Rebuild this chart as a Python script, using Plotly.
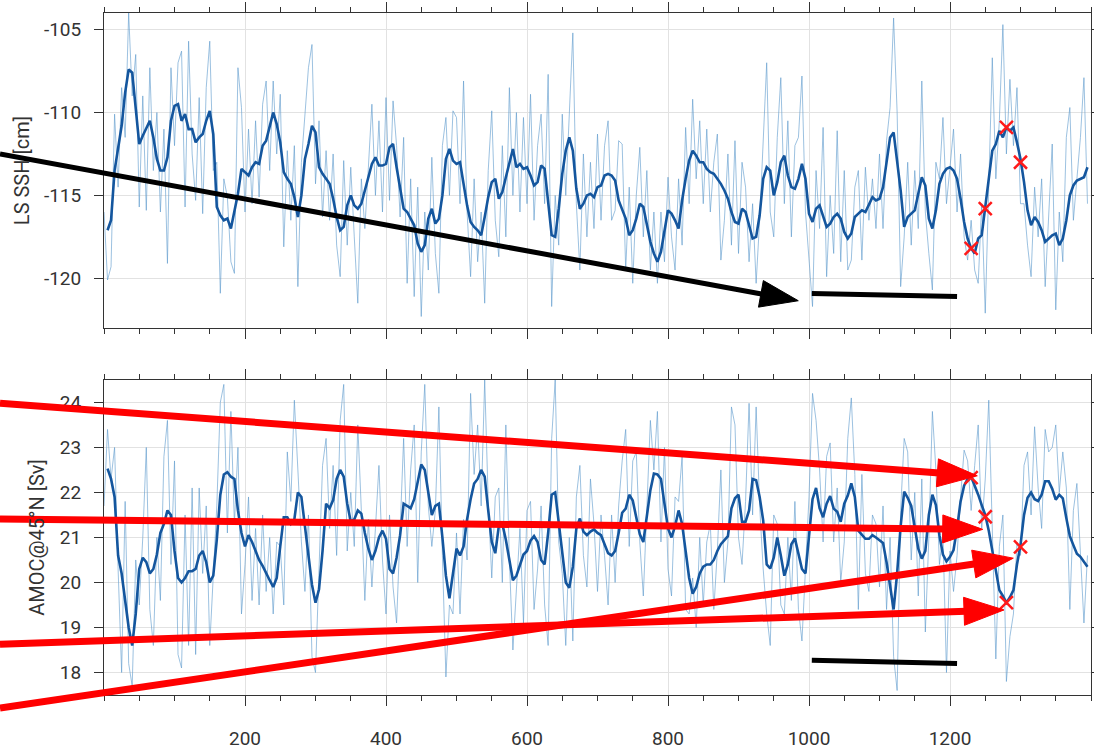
import plotly.graph_objects as go

# ---------------- data ----------------
years = list(range(0, 1400, 5))

ssh_annual = [
    -116.0, -120.1, -119.3, -110.1, -114.5, -108.5, -111.5, -104.0, -109.0, -106.5,
    -115.7, -109.0, -115.9, -107.3, -113.5, -110.0, -116.0, -111.0, -119.1, -107.3,
    -112.0, -107.0, -106.3, -115.7, -105.7, -112.5, -115.3, -109.1, -116.1, -108.5,
    -105.7, -113.5, -113.0, -120.9, -114.0, -115.1, -119.0, -119.7, -107.3, -109.7,
    -116.0, -111.0, -115.5, -110.5, -115.1, -109.5, -108.1, -113.5, -108.1, -112.5,
    -108.9, -118.1, -112.3, -116.5, -112.0, -120.5, -113.0, -110.3, -107.3, -105.9,
    -114.3, -110.5, -116.3, -112.3, -116.5, -112.5, -118.0, -119.9, -112.9, -118.0,
    -113.3, -117.5, -121.5, -114.0, -117.0, -113.3, -109.5, -115.0, -110.5, -116.0,
    -109.1, -115.3, -109.3, -112.0, -116.3, -111.5, -120.3, -114.0, -121.1, -114.5,
    -122.3, -116.0, -119.5, -112.7, -118.5, -120.9, -112.0, -110.3, -115.0, -109.9,
    -110.3, -115.5, -108.1, -116.0, -119.9, -114.0, -119.0, -116.0, -121.5, -113.5,
    -109.9, -116.5, -118.7, -112.0, -117.5, -108.5, -115.0, -110.0, -116.0, -110.3,
    -115.5, -108.9, -116.5, -112.0, -110.1, -115.5, -107.7, -121.7, -115.0, -118.0,
    -110.1, -115.0, -110.5, -105.2, -115.5, -119.5, -112.5, -117.5, -113.0, -117.0,
    -111.3, -116.5, -112.0, -110.5, -116.5, -115.9, -111.7, -111.9, -119.5, -114.5,
    -120.3, -115.0, -112.1, -117.5, -113.5, -119.5, -116.0, -120.3, -116.0, -119.0,
    -113.9, -117.5, -119.5, -114.0, -118.0, -110.9, -115.5, -109.2, -114.0, -110.5,
    -115.5, -111.0, -116.0, -113.0, -111.3, -118.9, -116.5, -112.5, -118.0, -111.7,
    -118.5, -113.0, -114.5, -119.0, -115.5, -120.3, -116.5, -112.0, -107.0, -116.0,
    -117.5, -111.5, -107.9, -115.5, -110.5, -117.5, -112.0, -111.5, -107.8, -116.0,
    -119.0, -121.7, -113.5, -117.0, -110.9, -119.9, -115.0, -118.5, -111.1, -119.0,
    -113.5, -119.5, -118.9, -114.5, -113.5, -118.9, -113.3, -116.5, -114.0, -117.0,
    -112.5, -117.0, -111.7, -109.7, -104.3, -110.0, -120.5, -117.5, -113.0, -118.0,
    -113.5, -117.0, -108.1, -116.0, -118.5, -120.7, -113.0, -114.0, -110.3, -115.5,
    -113.3, -111.0, -116.0, -112.5, -117.5, -118.9, -116.5, -119.5, -120.3, -115.5,
    -122.1, -113.5, -106.7, -114.0, -110.5, -104.7, -112.5, -108.0, -112.0, -108.5,
    -115.5, -115.5, -118.0, -119.9, -114.5, -117.5, -114.0, -120.5, -116.0, -111.9,
    -121.9, -116.0, -119.0, -111.5, -109.7, -116.5, -114.0, -111.5, -107.9, -115.5,
]

ssh_smooth = [
    None, -117.1, -116.5, -113.5, -112.0, -110.8, -108.8, -107.4, -107.6, -109.6,
    -111.9, -111.4, -110.9, -110.5, -111.5, -112.8, -113.5, -113.5, -112.7, -110.5,
    -109.6, -109.5, -110.5, -110.1, -111.0, -111.0, -111.8, -111.5, -111.3, -110.5,
    -109.9, -111.3, -115.7, -116.2, -116.5, -116.4, -117.0, -115.9, -114.9, -113.4,
    -113.6, -113.8, -113.3, -113.0, -113.1, -112.0, -111.7, -110.9, -110.0, -110.7,
    -111.8, -113.6, -114.0, -114.3, -115.1, -116.3, -115.0, -112.8, -111.9, -110.8,
    -111.2, -113.3, -113.7, -114.0, -114.3, -115.2, -116.3, -117.1, -116.9, -115.6,
    -115.0, -115.6, -115.8, -115.5, -114.7, -113.8, -113.1, -112.7, -113.2, -113.2,
    -113.1, -112.1, -111.9, -113.3, -114.5, -115.8, -116.0, -116.4, -116.8, -117.9,
    -118.4, -118.0, -116.4, -115.8, -116.7, -116.4, -115.0, -112.8, -112.2, -112.9,
    -113.1, -113.0, -114.3, -115.6, -116.6, -116.9, -117.1, -117.4, -116.3, -115.1,
    -114.2, -114.0, -115.2, -114.8, -113.9, -113.0, -112.2, -113.3, -113.1, -113.4,
    -113.3, -113.8, -114.4, -114.2, -113.2, -113.4, -115.5, -117.4, -117.5, -115.8,
    -113.7, -112.3, -111.5, -112.3, -114.6, -115.8, -115.5, -115.0, -114.9, -115.1,
    -114.5, -114.4, -113.8, -113.7, -113.8, -114.1, -115.3, -115.9, -116.4, -117.4,
    -117.1, -116.4, -115.5, -115.7, -116.7, -117.8, -118.5, -119.0, -118.4, -117.2,
    -115.9, -116.1, -116.5, -117.0, -115.3, -114.0, -112.9, -112.3, -112.6, -113.0,
    -113.0, -113.4, -113.6, -113.7, -114.0, -114.3, -114.7, -115.2, -116.0, -116.6,
    -116.7, -115.8, -116.0, -116.8, -117.6, -117.5, -116.2, -114.0, -113.3, -113.5,
    -115.0, -114.2, -113.0, -112.6, -113.8, -114.5, -114.6, -114.0, -113.1, -114.0,
    -116.1, -116.6, -115.8, -115.6, -116.3, -116.9, -116.7, -116.3, -116.1, -116.4,
    -117.2, -117.6, -117.3, -116.3, -116.1, -115.9, -116.0, -115.5, -115.1, -115.3,
    -115.2, -114.5, -113.0, -111.5, -111.2, -113.0, -114.7, -116.9, -116.3, -116.1,
    -115.9, -114.9, -113.9, -114.4, -116.4, -117.0, -115.9, -114.3, -113.7, -113.4,
    -113.3, -113.5, -114.0, -115.2, -116.6, -117.6, -118.2, -118.5, -117.6, -117.4,
    -115.7, -113.8, -112.3, -111.9, -111.1, -111.5, -110.9, -111.1, -110.9, -111.8,
    -112.8, -114.2, -115.9, -116.8, -116.3, -116.6, -117.1, -117.8, -117.6, -117.4,
    -117.3, -118.0, -117.6, -116.5, -115.0, -114.4, -114.1, -114.0, -113.9, -113.3,
]

amoc_annual = [
    21.7, 23.4, 22.3, 23.0, 20.3, 18.0, 21.8, 18.2, 17.7, 20.5,
    19.5, 21.0, 23.0, 19.4, 18.6, 21.0, 19.6, 22.8, 23.6, 20.4,
    22.7, 18.4, 18.1, 21.5, 18.6, 22.1, 18.4, 22.1, 20.2, 21.7,
    18.6, 20.2, 21.7, 24.0, 24.4, 21.1, 23.8, 21.3, 23.0, 19.3,
    20.4, 21.9, 19.6, 21.2, 19.5, 21.5, 19.8, 21.0, 19.3, 20.9,
    20.8, 19.5, 22.9, 21.8, 24.05, 22.5, 20.9, 19.8, 21.5, 18.35,
    18.0, 20.3, 22.6, 23.2, 21.2, 22.6, 20.6, 23.6, 24.4, 20.7,
    22.0, 20.8, 23.5, 21.6, 19.6, 21.4, 19.9, 21.2, 22.6, 20.5,
    19.3, 21.5, 19.9, 19.1, 21.2, 23.2, 20.8, 22.5, 23.5, 20.0,
    22.9, 24.4, 21.7, 20.8, 21.6, 23.9, 20.6, 17.9, 19.5, 19.3,
    21.1, 19.3, 21.4, 20.5, 24.2, 22.4, 23.5, 21.7, 24.5, 21.8,
    20.1, 21.9, 22.1, 20.0, 23.5, 20.5, 18.5, 19.8, 21.2, 19.1,
    21.6, 21.8, 19.4, 20.3, 21.7, 19.5, 18.6, 23.2, 24.5, 20.9,
    20.2, 18.6, 21.0, 18.7, 21.9, 22.6, 20.6, 19.9, 22.3, 21.3,
    19.8, 21.5, 20.6, 19.5, 21.5, 20.0, 21.7, 22.7, 23.4, 20.8,
    22.7, 22.9, 20.9, 19.7, 21.8, 23.6, 22.5, 23.8, 20.9, 23.0,
    20.3, 19.7, 21.9, 21.8, 22.8, 19.4, 19.3, 20.1, 19.0, 21.0,
    19.5, 20.9, 21.3, 19.4, 20.7, 22.5, 20.0, 20.9, 23.9, 23.5,
    21.0, 20.4, 21.8, 23.98, 21.5, 23.9, 21.7, 20.3, 19.3, 18.6,
    21.5, 21.3, 19.5, 19.3, 21.0, 19.6, 21.8, 19.4, 18.7, 20.2,
    21.9, 24.2, 23.6, 22.5, 20.9, 22.8, 23.1, 20.9, 22.1, 20.0,
    20.9, 23.2, 24.1, 22.4, 19.4, 22.4, 20.2, 19.8, 21.5, 21.3,
    19.9, 21.7, 19.4, 21.0, 18.35, 17.6, 21.6, 23.2, 22.9, 20.5,
    22.0, 19.7, 22.3, 18.9, 21.0, 23.8, 22.5, 20.4, 21.1, 18.0,
    20.7, 19.8, 20.6, 21.9, 22.94, 22.7, 21.6, 22.6, 23.5, 21.2,
    22.3, 24.05, 21.1, 18.3, 20.8, 21.5, 17.8, 18.8, 19.3, 20.9,
    20.6, 22.6, 22.9, 21.5, 23.46, 22.1, 21.2, 23.4, 22.9, 23.0,
    23.5, 22.0, 22.9, 22.1, 19.4, 21.6, 22.2, 20.7, 19.1, 20.6,
]

amoc_smooth = [
    None, 22.53, 22.3, 21.9, 20.6, 20.2, 19.6, 19.0, 18.6, 19.3,
    20.3, 20.55, 20.45, 20.2, 20.3, 20.62, 21.1, 21.3, 21.6, 21.5,
    20.7, 20.1, 20.0, 20.1, 20.25, 20.25, 20.3, 20.6, 20.7, 20.45,
    20.0, 20.15, 20.95, 21.95, 22.4, 22.45, 22.35, 22.3, 21.6, 21.1,
    20.8, 21.05, 20.9, 20.7, 20.5, 20.37, 20.2, 20.05, 19.9, 20.1,
    20.8, 21.45, 21.45, 21.3, 21.4, 22.0, 21.9, 21.2, 20.55, 19.95,
    19.55, 19.85, 20.7, 21.75, 21.65, 21.83, 22.3, 22.5, 22.35, 21.75,
    21.35, 21.4, 21.6, 21.53, 21.1, 20.75, 20.5, 20.7, 21.0, 21.15,
    20.97, 20.3, 20.2, 20.55, 21.05, 21.75, 21.7, 21.65, 21.85, 22.2,
    22.62, 22.5, 21.95, 21.5, 21.7, 21.75, 21.0, 20.15, 19.65, 20.15,
    20.75, 20.6, 20.8, 21.4, 21.85, 22.2, 22.3, 22.5, 22.35, 21.6,
    20.9, 20.65, 21.25, 21.3, 20.95, 20.5, 20.05, 20.15, 20.4, 20.62,
    20.7, 20.93, 21.03, 20.9, 20.5, 20.4, 21.1, 21.95, 22.0, 21.35,
    20.6, 20.0, 19.88, 20.35, 21.2, 21.42, 21.13, 21.05, 21.13, 21.18,
    21.1, 21.05, 20.85, 20.65, 20.6, 20.7, 21.1, 21.55, 21.64, 21.95,
    21.82, 21.47, 21.07, 20.9, 21.5, 22.05, 22.42, 22.4, 22.3, 21.8,
    21.2, 21.0, 21.25, 21.6, 21.3, 20.7, 20.1, 19.75, 19.9, 20.2,
    20.35, 20.4, 20.4, 20.5, 20.7, 20.85, 20.93, 21.03, 21.65, 21.87,
    21.95, 21.35, 21.35, 21.6, 22.3, 22.27, 21.9, 21.38, 20.4, 20.31,
    20.55, 21.0, 20.6, 20.15, 20.4, 20.85, 20.98, 20.61, 20.3, 20.2,
    21.0, 21.85, 22.1, 21.65, 21.45, 21.75, 21.92, 21.64, 21.57, 21.35,
    21.75, 21.93, 22.2, 21.9, 21.15, 21.07, 20.97, 20.97, 21.05, 21.0,
    20.93, 20.88, 20.45, 19.9, 19.4, 20.2, 21.25, 22.02, 21.88, 21.7,
    21.2, 20.75, 20.53, 20.7, 21.5, 21.95, 21.72, 21.05, 20.62, 20.47,
    20.57, 20.72, 21.2, 21.8, 22.15, 22.3, 22.35, 22.17, 21.95, 21.72,
    21.5, 21.15, 20.7, 20.25, 19.83, 19.7, 19.55, 19.67, 19.83, 20.4,
    20.83, 21.5, 21.88, 22.0, 21.85, 21.81, 21.95, 22.25, 22.25, 22.08,
    21.84, 21.95, 21.87, 21.43, 21.03, 20.83, 20.64, 20.57, 20.45, 20.35,
]

marker_years = [1230, 1250, 1280, 1300]
ssh_marker_vals = [-118.2, -115.8, -110.9, -113.0]
amoc_marker_vals = [22.33, 21.46, 19.55, 20.79]

# black trend segments
trend_years = [1004, 1210]
ssh_trend_vals = [-120.92, -121.1]
amoc_trend_vals = [18.27, 18.2]

# arrows: panel, value at figure left edge, tip year, tip value, colour, width
arrow_panels = ["top", "bot", "bot", "bot", "bot"]
arrow_tail_vals = [-112.5, 23.98, 21.41, 18.63, 17.21]
arrow_tip_years = [984.8, 1238.7, 1246.4, 1276.6, 1289.8]
arrow_tip_vals = [-121.35, 22.37, 21.18, 19.39, 20.54]
arrow_colors = ["#000000", "#ff0000", "#ff0000", "#ff0000", "#ff0000"]
arrow_widths = [5, 7, 7, 7, 7]
arrow_head_len = [38, 40, 40, 40, 40]
arrow_head_half = [13.5, 14, 14, 14, 14]

x_ticks = [200, 400, 600, 800, 1000, 1200]
ssh_ticks = [-120, -115, -110, -105]
ssh_tick_text = ["-120", "-115", "-110", "-105"]
amoc_ticks = [18, 19, 20, 21, 22, 23, 24]

# ---------------- layout constants ----------------
FIG_W, FIG_H = 1094, 750
ML, MR, MT, MB = 104, 3, 13, 55
X_RANGE = [0, 1400]
TOP_RANGE = [-123, -104]
BOT_RANGE = [17.5, 24.5]
TOP_DOM = [0.538, 1.0]
BOT_DOM = [0.0, 0.462]
PW = FIG_W - ML - MR
PH = FIG_H - MT - MB

THIN = "rgba(95,155,205,0.62)"
THICK = "#14569e"
TICKFONT = dict(family="Roboto", size=19, color="#333333")
TITLEFONT = dict(family="Roboto", size=20, color="#333333")

fig = go.Figure()
fig.add_trace(go.Scatter(x=years, y=ssh_annual, mode="lines",
                         line=dict(color=THIN, width=1), xaxis="x", yaxis="y"))
fig.add_trace(go.Scatter(x=years, y=ssh_smooth, mode="lines",
                         line=dict(color=THICK, width=2.6), xaxis="x", yaxis="y"))
fig.add_trace(go.Scatter(x=marker_years, y=ssh_marker_vals, mode="markers",
                         marker=dict(symbol="x-thin", size=13, line=dict(color="#ff1a1a", width=2.5)),
                         xaxis="x", yaxis="y"))
fig.add_trace(go.Scatter(x=years, y=amoc_annual, mode="lines",
                         line=dict(color=THIN, width=1), xaxis="x2", yaxis="y2"))
fig.add_trace(go.Scatter(x=years, y=amoc_smooth, mode="lines",
                         line=dict(color=THICK, width=2.6), xaxis="x2", yaxis="y2"))
fig.add_trace(go.Scatter(x=marker_years, y=amoc_marker_vals, mode="markers",
                         marker=dict(symbol="x-thin", size=13, line=dict(color="#ff1a1a", width=2.5)),
                         xaxis="x2", yaxis="y2"))

xcommon = dict(range=X_RANGE, tickvals=x_ticks, showgrid=True, gridcolor="#e2e2e2",
               gridwidth=1, zeroline=False, showline=True, linecolor="#333333", linewidth=1,
               mirror="ticks", ticks="outside", ticklen=10, tickcolor="#333333", tickwidth=1,
               minor=dict(tick0=0, dtick=50, ticks="outside", ticklen=5, tickcolor="#333333",
                          showgrid=False),
               tickfont=TICKFONT)
ycommon = dict(showgrid=True, gridcolor="#e2e2e2", gridwidth=1, zeroline=False,
               showline=True, linecolor="#333333", linewidth=1, mirror="ticks",
               ticks="outside", ticklen=9, tickcolor="#333333", tickfont=TICKFONT,
               ticklabelstandoff=9)

fig.update_layout(
    width=FIG_W, height=FIG_H, showlegend=False,
    font=dict(family="Roboto", size=19, color="#333333"),
    margin=dict(l=ML, r=MR, t=MT, b=MB, autoexpand=False),
    paper_bgcolor="white", plot_bgcolor="white",
    xaxis=dict(xcommon, anchor="y", showticklabels=False),
    xaxis2=dict(xcommon, anchor="y2", ticklabelstandoff=16),
    yaxis=dict(ycommon, domain=TOP_DOM, range=TOP_RANGE, tickvals=ssh_ticks,
               ticktext=ssh_tick_text, anchor="x",
               title=dict(text="LS SSH [cm]", font=TITLEFONT, standoff=8)),
    yaxis2=dict(ycommon, domain=BOT_DOM, range=BOT_RANGE, tickvals=amoc_ticks, anchor="x2",
                title=dict(text="AMOC@45°N [Sv]", font=TITLEFONT, standoff=9)),
)

shapes = []
shapes.append(dict(type="line", xref="x", yref="y", x0=trend_years[0], x1=trend_years[1],
                   y0=ssh_trend_vals[0], y1=ssh_trend_vals[1],
                   line=dict(color="black", width=5), layer="above"))
shapes.append(dict(type="line", xref="x2", yref="y2", x0=trend_years[0], x1=trend_years[1],
                   y0=amoc_trend_vals[0], y1=amoc_trend_vals[1],
                   line=dict(color="black", width=5), layer="above"))


def to_px(xval, yval, panel):
    dom, rng = (TOP_DOM, TOP_RANGE) if panel == "top" else (BOT_DOM, BOT_RANGE)
    px = ML + (xval - X_RANGE[0]) / (X_RANGE[1] - X_RANGE[0]) * PW
    pp = dom[0] + (yval - rng[0]) / (rng[1] - rng[0]) * (dom[1] - dom[0])
    py = MT + (1 - pp) * PH
    return px, py


def px_to_paper(px, py):
    return (px - ML) / PW, 1 - (py - MT) / PH


for i in range(len(arrow_panels)):
    _, ty = to_px(0, arrow_tail_vals[i], arrow_panels[i])
    tx = 0.0  # figure left edge
    hx, hy = to_px(arrow_tip_years[i], arrow_tip_vals[i], arrow_panels[i])
    dx, dy = hx - tx, hy - ty
    ln = (dx * dx + dy * dy) ** 0.5
    ux, uy = dx / ln, dy / ln
    nx, ny = -uy, ux
    L, Hw = arrow_head_len[i], arrow_head_half[i]
    bx, by = hx - L * ux, hy - L * uy
    p0 = px_to_paper(tx, ty)
    p1 = px_to_paper(bx + 2 * ux, by + 2 * uy)
    shapes.append(dict(type="line", xref="paper", yref="paper", x0=p0[0], y0=p0[1],
                       x1=p1[0], y1=p1[1], layer="above",
                       line=dict(color=arrow_colors[i], width=arrow_widths[i])))
    a = px_to_paper(hx, hy)
    b = px_to_paper(bx + Hw * nx, by + Hw * ny)
    c = px_to_paper(bx - Hw * nx, by - Hw * ny)
    path = f"M {a[0]} {a[1]} L {b[0]} {b[1]} L {c[0]} {c[1]} Z"
    shapes.append(dict(type="path", xref="paper", yref="paper", path=path, layer="above",
                       fillcolor=arrow_colors[i], line=dict(color=arrow_colors[i], width=1)))

fig.update_layout(shapes=shapes)
fig.write_html("out.html")
